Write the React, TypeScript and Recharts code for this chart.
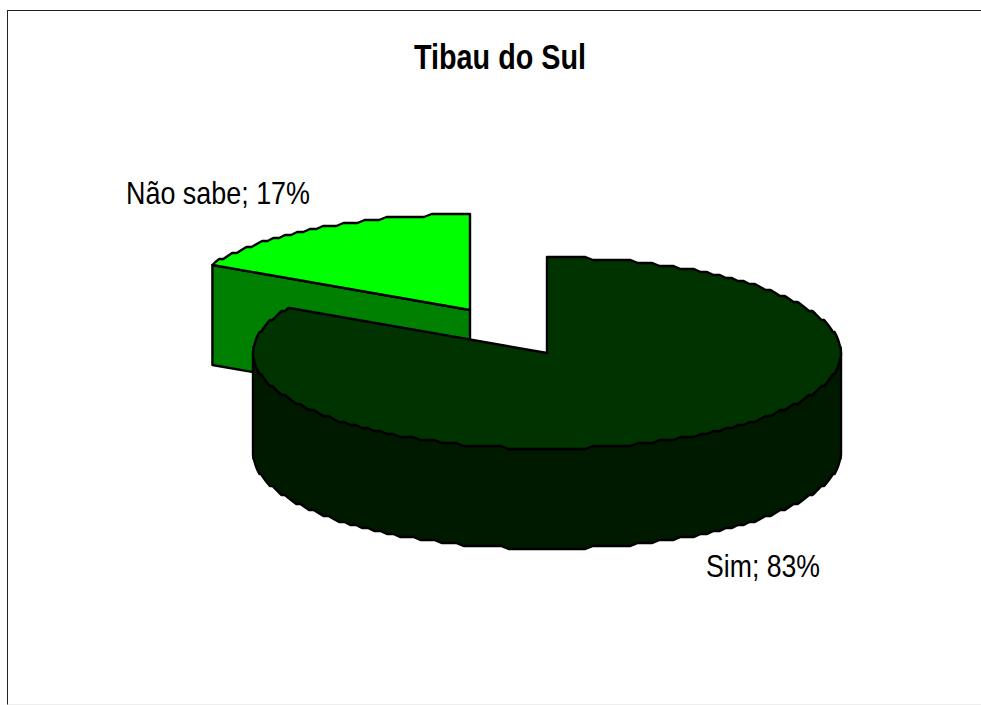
import { Pie, PieChart } from "recharts";

const sliceNames = ["Não sabe", "Sim"];
const sliceValues = [17, 83];
const topColors = ["#00ff00", "#003300"];
const wallColors = ["#008000", "#001a00"];
const chartTitle = "Tibau do Sul";

// 3d look of the old spreadsheet pie
const TILT = 0.325;
const DEPTH = 100;
const GRID = 3;
const STEP = 1.5;
const FONT = "'Liberation Sans', Arial, sans-serif";
const explode: Record<string, [number, number]> = { "Não sabe": [-77, -43], Sim: [0, 0] };
const labelSpots: Record<string, [number, number, number]> = {
  "Não sabe": [126, 204, 184],
  Sim: [706, 577, 114],
};

const data = sliceNames.map((name, i) => ({
  name,
  value: sliceValues[i],
  fill: topColors[i],
  wall: wallColors[i],
}));

const RAD = Math.PI / 180;

function rimPoints(cx: number, cy: number, r: number, from: number, to: number) {
  // fixed steps so top face and wall share the same facets
  const angles = [from];
  for (let a = Math.ceil(from / STEP - 1) * STEP; a > to; a -= STEP) if (a < from) angles.push(a);
  angles.push(to);
  return angles.map((deg) => {
    const x = cx + r * Math.cos(deg * RAD);
    // snapping relative to the centre keeps the rim symmetric and spike free
    const y = cy - Math.round((r * TILT * Math.sin(deg * RAD)) / GRID) * GRID;
    return [x, y] as [number, number];
  });
}

const toPath = (pts: [number, number][]) =>
  "M" + pts.map((p) => `${p[0].toFixed(1)} ${p[1].toFixed(1)}`).join("L") + "Z";

function Slice3D(props: any) {
  const { cx, cy, outerRadius: r, startAngle, endAngle, name, fill } = props;
  const entry = data.find((d) => d.name === (name ?? props.payload?.name));
  const [dx, dy] = explode[entry?.name ?? ""] ?? [0, 0];
  const x0 = cx + dx;
  const y0 = cy + dy;
  const wall = entry?.wall ?? "#000";
  const walls: [number, number][][] = [];

  // radial wall on the leading edge, only when it faces the viewer
  if (Math.sin((startAngle + 90) * RAD) < -0.01) {
    const [ex, ey] = rimPoints(x0, y0, r, startAngle, startAngle - STEP)[0];
    walls.push([[x0, y0], [ex, ey], [ex, ey + DEPTH], [x0, y0 + DEPTH]]);
  }

  // outer wall, the part of the rim in the front half
  const from = Math.min(startAngle, 0);
  const to = Math.max(endAngle, -180);
  if (from > to) {
    const upper = rimPoints(x0, y0, r, from, to);
    const lower = [...upper].reverse().map(([x, y]) => [x, y + DEPTH] as [number, number]);
    walls.push([...upper, ...lower]);
  }

  const top = [[x0, y0] as [number, number], ...rimPoints(x0, y0, r, startAngle, endAngle)];

  return (
    <g stroke="#000" strokeWidth={2.4} strokeLinejoin="round">
      {walls.map((w, i) => (
        <path key={i} d={toPath(w)} fill={wall} />
      ))}
      <path d={toPath(top)} fill={fill} />
    </g>
  );
}

function sliceLabel(props: any) {
  const name = props.name ?? props.payload?.name;
  const [x, y, w] = labelSpots[name];
  return (
    <text key={name} x={x} y={y} fontSize={32} textLength={w} lengthAdjust="spacingAndGlyphs" fill="#000" stroke="none" fontFamily={FONT}>
      {`${name}; ${props.value}%`}
    </text>
  );
}

export default function App() {
  return (
    <div style={{ position: "absolute", left: 0, top: 0, width: 981, height: 705, background: "#fff", overflow: "hidden" }}>
      <div style={{ position: "absolute", left: 7, top: 10, right: -2, bottom: 0, borderLeft: "1px solid #222", borderTop: "1px solid #222", borderBottom: "1px solid #eee" }} />
      <PieChart width={981} height={705} margin={{ top: 0, right: 0, bottom: 0, left: 0 }} style={{ position: "absolute", left: 0, top: 0 }}>
        <text x={414} y={69} fontSize={35} fontWeight="bold" textLength={172} lengthAdjust="spacingAndGlyphs" fill="#000" fontFamily={FONT}>
          {chartTitle}
        </text>
        <Pie
          data={data}
          dataKey="value"
          nameKey="name"
          cx={547}
          cy={353}
          innerRadius={0}
          outerRadius={294}
          startAngle={151.2}
          endAngle={-208.8}
          paddingAngle={0}
          shape={Slice3D}
          label={sliceLabel}
          labelLine={false}
          isAnimationActive={false}
        />
      </PieChart>
    </div>
  );
}
